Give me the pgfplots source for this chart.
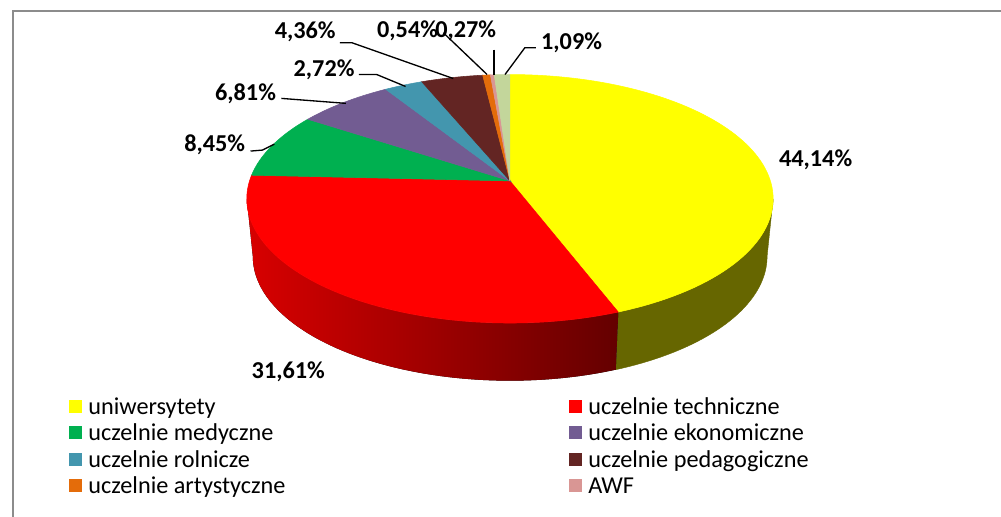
\documentclass[border=0pt]{standalone}
\usepackage{fontspec}
\setmainfont{Carlito}
\usepackage{pgfplots}
\pgfplotsset{compat=1.18}
\usepgfplotslibrary{fillbetween}
\pgfplotsset{legend image code/.code={\fill[#1, draw=none] (0pt,-3.6pt) rectangle (10pt,6.4pt); \path (14pt,0pt);}}

\definecolor{cUni}{HTML}{FFFF00}
\definecolor{cTech}{HTML}{FF0000}
\definecolor{cMed}{HTML}{00B050}
\definecolor{cEko}{HTML}{725C92}
\definecolor{cRol}{HTML}{4396AE}
\definecolor{cPed}{HTML}{632523}
\definecolor{cArt}{HTML}{E46C0A}
\definecolor{cAWF}{HTML}{D99694}
\definecolor{cOth}{HTML}{C3D69B}
\definecolor{cUniSide}{HTML}{666600}
\definecolor{cTechL}{HTML}{D80000}
\definecolor{cTechR}{HTML}{640000}
\definecolor{frameg}{HTML}{8C8C8C}

\begin{document}
% shares in percent (clockwise from the top)
\pgfmathsetmacro\aA{0}
\pgfmathsetmacro\aB{\aA+3.6*44.14}% uniwersytety
\pgfmathsetmacro\aC{\aB+3.6*31.61}% uczelnie techniczne
\pgfmathsetmacro\aD{\aC+3.6*8.45}%  uczelnie medyczne
\pgfmathsetmacro\aE{\aD+3.6*6.81}%  uczelnie ekonomiczne
\pgfmathsetmacro\aF{\aE+3.6*2.72}%  uczelnie rolnicze
\pgfmathsetmacro\aG{\aF+3.6*4.36}%  uczelnie pedagogiczne
\pgfmathsetmacro\aH{\aG+3.6*0.54}%  uczelnie artystyczne
\pgfmathsetmacro\aI{\aH+3.6*0.27}%  AWF
\pgfmathsetmacro\aJ{\aI+3.6*1.09}%  pozostale
\newcommand\slice[3]{\addplot[fill=#3, draw=#3, line width=0.4pt, domain=#1:#2, samples=90, variable=\t, forget plot] ({PX(\t)},{PY(\t)}) -- (axis cs:507,182) -- cycle;}
\begin{tikzpicture}
\begin{axis}[
  hide axis, scale only axis,
  width=750.75pt, height=390pt,
  xmin=0, xmax=1001, ymin=0, ymax=520, y dir=reverse,
  clip=false,
  declare function={
    PX(\t)=507+262*sin(\t)/(1+0.144*cos(\t));
    PY(\t)=182-122.4*cos(\t)/(1+0.144*cos(\t));
    BX(\t)=507+256*sin(\t)/(1+0.144*cos(\t));
    BY(\t)=240-122.4*cos(\t)/(1+0.144*cos(\t));
  },
  legend columns=2,
  legend cell align=left,
  legend style={at={(axis cs:63,397)}, anchor=north west, draw=none, fill=none,
    font=\fontsize{18.3}{20}\selectfont, column sep=0pt, row sep=0pt, inner sep=0pt,
    nodes={inner sep=0.5pt, text height=14pt, text depth=5pt}},
]
% side faces
\addplot[name path=yT, draw=none, domain=98.28:\aB, samples=60, variable=\t, forget plot] ({PX(\t)},{PY(\t)});
\addplot[name path=yB, draw=none, domain=98.28:\aB, samples=60, variable=\t, forget plot] ({BX(\t)},{BY(\t)});
\addplot[fill=cUniSide, draw=cUniSide, line width=0.3pt, forget plot] fill between[of=yT and yB];
\addplot[name path=rT, draw=none, domain=\aB:261.72, samples=90, variable=\t, forget plot] ({PX(\t)},{PY(\t)});
\addplot[name path=rB, draw=none, domain=\aB:261.72, samples=90, variable=\t, forget plot] ({BX(\t)},{BY(\t)});
\addplot[left color=cTechL, right color=cTechR, draw=none, forget plot] fill between[of=rT and rB];
% top faces
\slice{\aA}{\aB}{cUni}
\slice{\aB}{\aC}{cTech}
\slice{\aC}{\aD}{cMed}
\slice{\aD}{\aE}{cEko}
\slice{\aE}{\aF}{cRol}
\slice{\aF}{\aG}{cPed}
\slice{\aG}{\aH}{cArt}
\slice{\aH}{\aI}{cAWF}
\slice{\aI}{\aJ}{cOth}
% legend
\addlegendimage{fill=cUni}\addlegendentry{\makebox[362pt][l]{uniwersytety}}
\addlegendimage{fill=cTech}\addlegendentry{uczelnie techniczne}
\addlegendimage{fill=cMed}\addlegendentry{\makebox[362pt][l]{uczelnie medyczne}}
\addlegendimage{fill=cEko}\addlegendentry{uczelnie ekonomiczne}
\addlegendimage{fill=cRol}\addlegendentry{\makebox[362pt][l]{uczelnie rolnicze}}
\addlegendimage{fill=cPed}\addlegendentry{uczelnie pedagogiczne}
\addlegendimage{fill=cArt}\addlegendentry{\makebox[362pt][l]{uczelnie artystyczne}}
\addlegendimage{fill=cAWF}\addlegendentry{AWF}
% leader lines
\draw[line width=1pt] (axis cs:246,152) -- (axis cs:258,151) -- (axis cs:270,145);
\draw[line width=1pt] (axis cs:277,99) -- (axis cs:342,104);
\draw[line width=1pt] (axis cs:355,75) -- (axis cs:373,75) -- (axis cs:402,87);
\draw[line width=1pt] (axis cs:336,43) -- (axis cs:348,43) -- (axis cs:450,79);
\draw[line width=1pt] (axis cs:440,33) -- (axis cs:484,75);
\draw[line width=1pt] (axis cs:491,50) -- (axis cs:491,75);
\draw[line width=1pt] (axis cs:533,48) -- (axis cs:522,48) -- (axis cs:502,75);
% data labels
\begin{scope}[every node/.style={font=\fontsize{18.3}{20}\selectfont\bfseries, anchor=base, inner sep=0pt}]
\node at (axis cs:814.5,168) {44,14\%};
\node at (axis cs:284,381) {31,61\%};
\node at (axis cs:210,152) {8,45\%};
\node at (axis cs:241,101) {6,81\%};
\node at (axis cs:320,77) {2,72\%};
\node at (axis cs:301,39) {4,36\%};
\node at (axis cs:404,38) {0,54\%};
\node at (axis cs:462.5,38) {0,27\%};
\node at (axis cs:569,50) {1,09\%};
\end{scope}
% frame
\draw[frameg, line width=1.1pt] (axis cs:7,520) -- (axis cs:7,11) -- (axis cs:1001,11);
\coordinate (bl) at (axis cs:0,520);
\coordinate (tr) at (axis cs:1001,0);
\end{axis}
\pgfresetboundingbox
\useasboundingbox (bl) rectangle (tr);
\end{tikzpicture}
\end{document}
